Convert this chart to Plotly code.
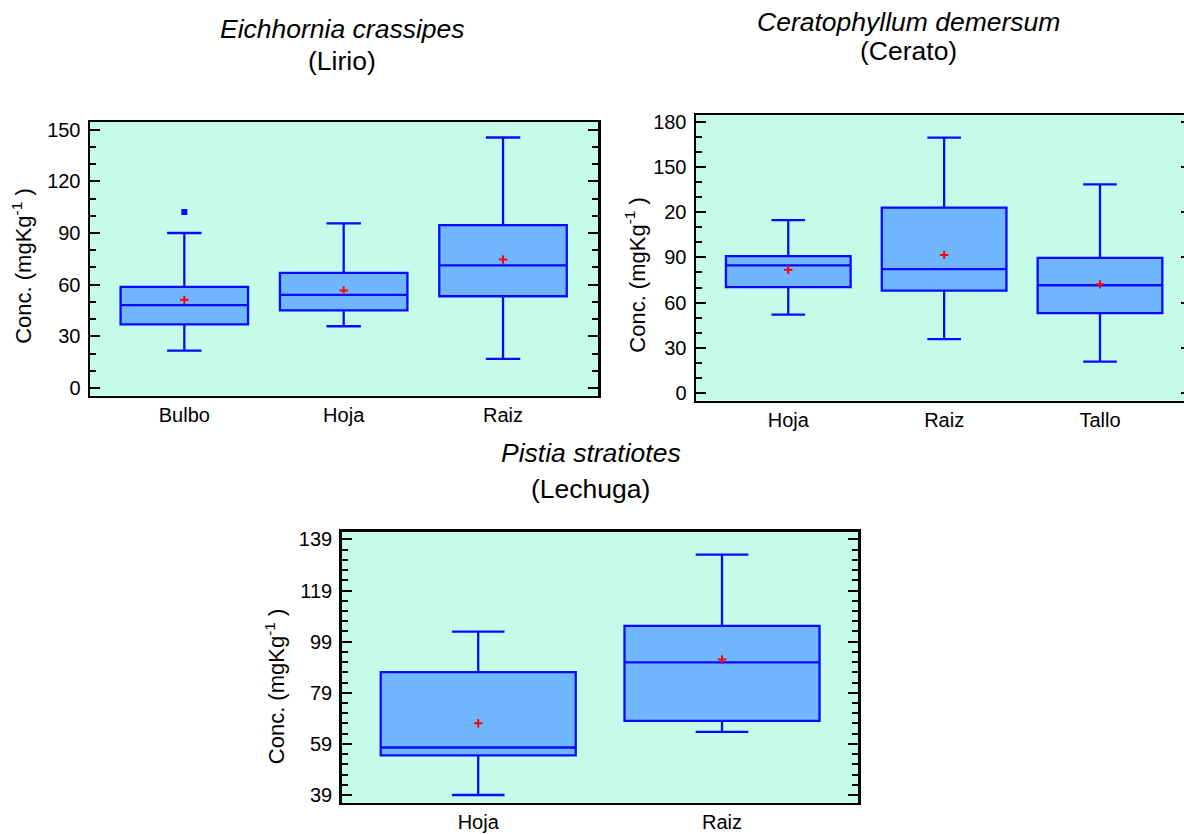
import plotly.graph_objects as go

# ---------------- data ----------------
lirio_cats = ["Bulbo", "Hoja", "Raiz"]
lirio_q1 = [37.0, 45.1, 53.3]
lirio_med = [48.1, 54.1, 71.2]
lirio_q3 = [58.7, 66.8, 94.6]
lirio_low = [21.7, 35.9, 17.0]
lirio_high = [90.0, 95.6, 145.4]
lirio_mean = [51.2, 56.6, 74.6]
lirio_out_x = ["Bulbo"]
lirio_out_y = [102.2]

cerato_cats = ["Hoja", "Raiz", "Tallo"]
cerato_q1 = [70.2, 68.0, 53.0]
cerato_med = [84.7, 82.3, 71.5]
cerato_q3 = [90.9, 123.2, 89.8]
cerato_low = [51.9, 35.6, 20.7]
cerato_high = [114.9, 169.8, 138.6]
cerato_mean = [81.8, 91.7, 72.1]

lechuga_cats = ["Hoja", "Raiz"]
lechuga_q1 = [54.5, 68.0]
lechuga_med = [57.6, 90.9]
lechuga_q3 = [87.1, 105.2]
lechuga_low = [39.0, 63.7]
lechuga_high = [102.9, 133.1]
lechuga_mean = [67.1, 92.0]

lirio_ticks = [0, 30, 60, 90, 120, 150]
lirio_ticktext = ["0", "30", "60", "90", "120", "150"]
cerato_ticks = [0, 30, 60, 90, 120, 150, 180]
cerato_ticktext = ["0", "30", "60", "90", "20", "150", "180"]
lechuga_ticks = [39, 59, 79, 99, 119, 139]
lechuga_ticktext = ["39", "59", "79", "99", "119", "139"]

# ---------------- style ----------------
FONT = "Liberation Sans, Arial, sans-serif"
BOX_LINE = "#0a0aff"
BOX_FILL = "#70b6ff"
BG = "#c4fbe9"
W, H = 1184, 834

fig = go.Figure()


def add_panel(cats, q1, med, q3, low, high, mean, xa, ya):
    fig.add_trace(go.Box(
        x=cats, q1=q1, median=med, q3=q3, lowerfence=low, upperfence=high,
        width=0.8, whiskerwidth=0.27, boxpoints=False,
        fillcolor=BOX_FILL, line=dict(color=BOX_LINE, width=2.3),
        xaxis=xa, yaxis=ya, showlegend=False, hoverinfo="skip"))
    fig.add_trace(go.Scatter(
        x=cats, y=mean, mode="markers",
        marker=dict(symbol="cross-thin", size=6, color="red",
                    line=dict(color="red", width=2)),
        xaxis=xa, yaxis=ya, showlegend=False, hoverinfo="skip"))


add_panel(lirio_cats, lirio_q1, lirio_med, lirio_q3, lirio_low, lirio_high, lirio_mean, "x", "y")
fig.add_trace(go.Scatter(
    x=lirio_out_x, y=lirio_out_y, mode="markers",
    marker=dict(symbol="square", size=6, color=BOX_LINE),
    xaxis="x", yaxis="y", showlegend=False, hoverinfo="skip"))
add_panel(cerato_cats, cerato_q1, cerato_med, cerato_q3, cerato_low, cerato_high, cerato_mean, "x2", "y2")
add_panel(lechuga_cats, lechuga_q1, lechuga_med, lechuga_q3, lechuga_low, lechuga_high, lechuga_mean, "x3", "y3")


def px_x(a, b):
    return [a / W, min(b / W, 1.0)]


def px_y(top, bottom):
    return [1 - bottom / H, 1 - top / H]


tickfont = dict(family=FONT, size=20, color="black")

xcommon = dict(type="category", showline=True, linecolor="black", linewidth=2.5,
               ticks="", showgrid=False, zeroline=False, tickfont=tickfont,
               ticklabelstandoff=0, fixedrange=True)
ycommon = dict(showline=True, linecolor="black", linewidth=2.5, ticks="inside",
               ticklen=10, tickwidth=2, tickcolor="black", showgrid=False,
               zeroline=False, tickfont=tickfont, ticklabelstandoff=3,
               tickmode="array", fixedrange=True)

fig.update_layout(
    width=W, height=H,
    margin=dict(l=0, r=0, t=0, b=0),
    paper_bgcolor="white", plot_bgcolor=BG,
    font=dict(family=FONT, color="black"),
    xaxis=dict(xcommon, domain=px_x(90, 598), range=[-0.592, 2.596], anchor="y", mirror=True),
    yaxis=dict(ycommon, domain=px_y(119, 395), range=[-4.4, 154.4], anchor="x",
               tickvals=lirio_ticks, ticktext=lirio_ticktext, mirror="ticks",
               minor=dict(ticks="inside", ticklen=6, tickwidth=2, tickcolor="black",
                          tick0=0, dtick=10)),
    xaxis2=dict(xcommon, domain=px_x(696, 1184), range=[-0.592, 2.539], anchor="y2", mirror=True),
    yaxis2=dict(ycommon, domain=px_y(112, 400), range=[-5.3, 184.8], anchor="x2",
                tickvals=cerato_ticks, ticktext=cerato_ticktext, mirror=False,
                minor=dict(ticks="inside", ticklen=6, tickwidth=2, tickcolor="black",
                           tick0=0, dtick=10)),
    yaxis4=dict(overlaying="y2", side="right", anchor="x2", range=[-5.3, 184.8],
                tickmode="array", tickvals=cerato_ticks, showticklabels=False,
                ticks="inside", ticklen=3, tickwidth=2, tickcolor="black",
                showline=False, showgrid=False, zeroline=False, fixedrange=True),
    xaxis3=dict(xcommon, domain=px_x(341.7, 858.3), range=[-0.56, 1.559], anchor="y3", mirror=True),
    yaxis3=dict(ycommon, domain=px_y(532, 805.7), range=[35.9, 142.1], anchor="x3",
                tickvals=lechuga_ticks, ticktext=lechuga_ticktext, mirror="ticks",
                minor=dict(ticks="inside", ticklen=6, tickwidth=2, tickcolor="black",
                           tick0=39, dtick=4)),
)

# invisible trace so the right-hand stub axis of panel 2 is drawn
fig.add_trace(go.Scatter(x=["Hoja"], y=[None], xaxis="x2", yaxis="y4",
                         mode="markers", showlegend=False, hoverinfo="skip"))

TITLE = 26.5
YT = 22
anns = [
    ("<i>Eichhornia crassipes</i>", 342, 25, TITLE, 0),
    ("(Lirio)", 342, 57, TITLE, 0),
    ("<i>Ceratophyllum demersum</i>", 908, 18, TITLE, 0),
    ("(Cerato)", 908, 47, TITLE, 0),
    ("<i>Pistia stratiotes</i>", 591, 453, TITLE, 0),
    ("(Lechuga)", 590, 489, TITLE, 0),
    ("Conc. (mgKg<sup>-1</sup> )", 22, 264, YT, -90),
    ("Conc. (mgKg<sup>-1</sup> )", 635, 273, YT, -90),
    ("Conc. (mgKg<sup>-1</sup> )", 275, 688, YT, -90),
]
for text, x, y, size, ang in anns:
    fig.add_annotation(text=text, x=x / W, y=1 - y / H, xref="paper", yref="paper",
                       xanchor="center", yanchor="middle", showarrow=False,
                       textangle=ang, font=dict(family=FONT, size=size, color="black"))

fig.write_html("out.html", config={"displayModeBar": False, "staticPlot": True},
               post_script="document.body.style.margin='0px';document.body.style.overflow='hidden';")
